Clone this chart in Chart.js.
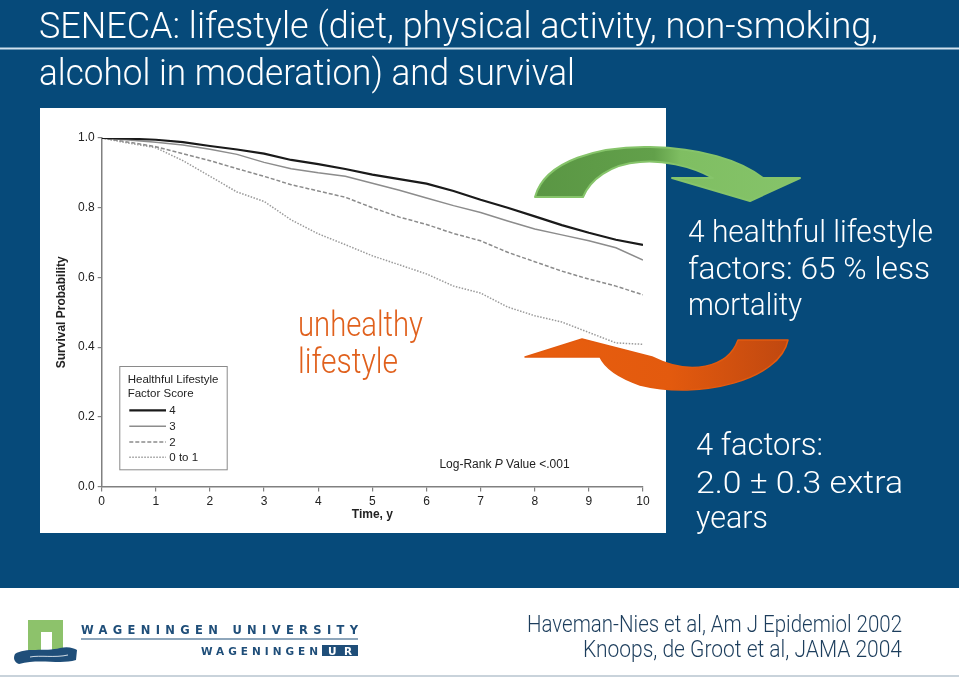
<!DOCTYPE html>
<html><head><meta charset="utf-8">
<script src="https://cdn.jsdelivr.net/npm/chart.js@4/dist/chart.umd.min.js"></script>
<style>
html,body{margin:0;padding:0;}
body{width:959px;height:679px;background:#064a7a;position:relative;overflow:hidden;}
#panel{position:absolute;left:40px;top:108px;width:626px;height:425px;background:#fff;}
#panel canvas{display:block;}
#overlay{position:absolute;left:0;top:0;pointer-events:none;}
</style></head><body>
<div id="panel"><canvas id="c" width="626" height="425"></canvas></div>
<svg id="overlay" width="959" height="679" xmlns="http://www.w3.org/2000/svg">
  <defs>
    <linearGradient id="gg" x1="535" y1="0" x2="800" y2="0" gradientUnits="userSpaceOnUse">
      <stop offset="0" stop-color="#5a9644"/><stop offset="0.45" stop-color="#62a04a"/>
      <stop offset="0.55" stop-color="#7fbe62"/><stop offset="1" stop-color="#86c46a"/>
    </linearGradient>
    <linearGradient id="og" x1="525" y1="0" x2="788" y2="0" gradientUnits="userSpaceOnUse">
      <stop offset="0" stop-color="#e85e0e"/><stop offset="0.55" stop-color="#e35a0e"/>
      <stop offset="1" stop-color="#c04810"/>
    </linearGradient>
  </defs>
  <!-- title -->
  <g font-family="Roboto, 'Liberation Sans Narrow', sans-serif" font-weight="300" fill="#ffffff">
    <text x="39" y="38" font-size="36" textLength="839" lengthAdjust="spacingAndGlyphs">SENECA: lifestyle (diet, physical activity, non-smoking,</text>
    <text x="39" y="85" font-size="36" textLength="536" lengthAdjust="spacingAndGlyphs">alcohol in moderation) and survival</text>
  </g>
  <rect x="0" y="47.5" width="959" height="2" fill="#cfe1ee"/>
  <!-- arrows -->
  <path d="M535,197 C545,160 600,146 650,147 C700,148 740,160 763,178 L800,178 L750,201 L672,178 L713,178 C690,165 660,160 640,162 C610,164 590,180 583,197 Z" fill="url(#gg)" stroke="#86c46a" stroke-width="2" stroke-linejoin="round"/>
  <path d="M525,357 L582,339 L652,357 C690,376 728,368 738,340 L788,340 C780,380 700,400 640,385 C620,378 605,368 600,357 Z" fill="url(#og)" stroke="#e35a0e" stroke-width="1.5" stroke-linejoin="round"/>
  <!-- annotations -->
  <g font-family="Roboto, 'Liberation Sans Narrow', sans-serif" font-weight="300">
    <text x="298" y="336" font-size="35" fill="#e0601c" textLength="125" lengthAdjust="spacingAndGlyphs">unhealthy</text>
    <text x="298" y="373" font-size="35" fill="#e0601c" textLength="100" lengthAdjust="spacingAndGlyphs">lifestyle</text>
    <g fill="#ffffff" font-size="32">
      <text x="688" y="242" textLength="245" lengthAdjust="spacingAndGlyphs">4 healthful lifestyle</text>
      <text x="688" y="279" textLength="242" lengthAdjust="spacingAndGlyphs">factors: 65 % less</text>
      <text x="688" y="315" textLength="114" lengthAdjust="spacingAndGlyphs">mortality</text>
      <text x="696" y="455" textLength="127" lengthAdjust="spacingAndGlyphs">4 factors:</text>
      <text x="696" y="493" textLength="207" lengthAdjust="spacingAndGlyphs">2.0 ± 0.3 extra</text>
      <text x="696" y="528" textLength="72" lengthAdjust="spacingAndGlyphs">years</text>
    </g>
  </g>
  <!-- footer -->
  <rect x="0" y="588" width="959" height="91" fill="#ffffff"/>
  <rect x="0" y="675" width="959" height="2" fill="#c9d3db"/>
  <g font-family="Roboto, 'Liberation Sans Narrow', sans-serif" font-weight="300" fill="#1c3d5c" font-size="24" text-anchor="end">
    <text x="902" y="631.5" textLength="375" lengthAdjust="spacingAndGlyphs">Haveman-Nies et al, Am J Epidemiol 2002</text>
    <text x="902" y="656.5" textLength="319" lengthAdjust="spacingAndGlyphs">Knoops, de Groot et al, JAMA 2004</text>
  </g>
  <!-- logo -->
  <path d="M28,620 H63 V652 H52 V632 H41 V652 H28 Z" fill="#8dc26b"/>
  <path d="M15,654 C25,647 45,652 60,648 C68,646 74,648 77,650 L76,660 C60,665 40,658 19,664 C14,662 13,658 15,654 Z" fill="#1f4e79"/>
  <path d="M30,657 C40,655 55,658 68,655" stroke="#ffffff" stroke-width="0.8" fill="none"/>
  <g font-family="'DejaVu Sans', sans-serif" font-weight="bold" fill="#1f4e79">
    <text x="81" y="633.5" font-size="11.5" textLength="277" lengthAdjust="spacing">WAGENINGEN UNIVERSITY</text>
    <text x="201" y="655" font-size="10.5" textLength="117" lengthAdjust="spacing">WAGENINGEN</text>
  </g>
  <rect x="81" y="638.5" width="277" height="1" fill="#1f4e79"/>
  <rect x="322" y="645" width="36" height="11" fill="#1f4e79"/>
  <text x="328" y="655" font-family="'DejaVu Sans', sans-serif" font-weight="bold" font-size="10.5" fill="#ffffff" textLength="24" lengthAdjust="spacing">UR</text>
</svg>
<script>
// ---- data ----
const years = [0,0.5,1,1.5,2,2.5,3,3.5,4,4.5,5,5.5,6,6.5,7,7.5,8,8.5,9,9.5,10];
const score4  = [1.000,0.998,0.995,0.988,0.977,0.967,0.955,0.937,0.925,0.911,0.895,0.882,0.869,0.848,0.823,0.800,0.775,0.750,0.728,0.708,0.693];
const score3  = [1.000,0.994,0.988,0.980,0.968,0.953,0.930,0.912,0.900,0.890,0.870,0.850,0.828,0.806,0.786,0.762,0.739,0.722,0.705,0.685,0.650];
const score2  = [1.000,0.988,0.975,0.955,0.935,0.912,0.890,0.866,0.848,0.830,0.800,0.773,0.752,0.726,0.705,0.672,0.645,0.618,0.595,0.575,0.550];
const score01 = [1.000,0.985,0.972,0.935,0.890,0.845,0.818,0.765,0.725,0.694,0.662,0.636,0.610,0.575,0.555,0.515,0.490,0.472,0.442,0.412,0.408];
const seriesLabels = ['4','3','2','0 to 1'];
const legendTitle = ['Healthful Lifestyle','Factor Score'];
const yTickLabels = ['0.0','0.2','0.4','0.6','0.8','1.0'];
const xTickLabels = ['0','1','2','3','4','5','6','7','8','9','10'];

const FONT = "'Liberation Sans', Arial, Helvetica, sans-serif";
const toPts = arr => arr.map((v,i)=>({x:years[i], y:v}));

const styles = [
  {borderColor:'#1a1a1a', borderWidth:2.2, borderDash:[]},
  {borderColor:'#8c8c8c', borderWidth:1.5, borderDash:[]},
  {borderColor:'#8c8c8c', borderWidth:1.5, borderDash:[4,2]},
  {borderColor:'#9a9a9a', borderWidth:1.5, borderDash:[1.5,1.5]}
];
const seriesData = [score4, score3, score2, score01];

const innerLegend = {
  id:'innerLegend',
  afterDraw(chart){
    const {ctx, chartArea:a} = chart;
    ctx.save();
    const bx = a.left + 17.6, by = a.top + 228, bw = 107.4, bh = 103.3;
    ctx.strokeStyle = '#8a8a8a'; ctx.lineWidth = 1; ctx.setLineDash([]);
    ctx.strokeRect(bx+0.5, by+0.5, bw, bh);
    ctx.fillStyle = '#222'; ctx.font = '11.5px ' + FONT; ctx.textBaseline = 'middle'; ctx.textAlign = 'left';
    ctx.fillText(legendTitle[0], bx+8.4, by+14);
    ctx.fillText(legendTitle[1], bx+8.4, by+28.3);
    const rows = [44.3, 60.3, 76, 91.3];
    chart.data.datasets.forEach((ds,i)=>{
      const y = by + rows[i];
      ctx.strokeStyle = ds.borderColor; ctx.lineWidth = ds.borderWidth; ctx.setLineDash(ds.borderDash||[]);
      ctx.beginPath(); ctx.moveTo(bx+10, y); ctx.lineTo(bx+46.7, y); ctx.stroke();
      ctx.fillText(ds.label, bx+50, y+0.5);
    });
    // Log-rank annotation
    ctx.setLineDash([]);
    const cx = a.left + 402.8, cy = a.top + 327;
    const p1 = 'Log-Rank ', p2 = 'P', p3 = ' Value <.001';
    ctx.font = '12px ' + FONT; const w1 = ctx.measureText(p1).width, w3 = ctx.measureText(p3).width;
    ctx.font = 'italic 12px ' + FONT; const w2 = ctx.measureText(p2).width;
    let x = cx - (w1+w2+w3)/2;
    ctx.font = '12px ' + FONT; ctx.fillText(p1, x, cy); x += w1;
    ctx.font = 'italic 12px ' + FONT; ctx.fillText(p2, x, cy); x += w2;
    ctx.font = '12px ' + FONT; ctx.fillText(p3, x, cy);
    ctx.restore();
  }
};

new Chart(document.getElementById('c'), {
  type:'line',
  data:{
    datasets: seriesData.map((d,i)=>({
      label: seriesLabels[i], data: toPts(d),
      borderColor: styles[i].borderColor, borderWidth: styles[i].borderWidth,
      borderDash: styles[i].borderDash, fill:false, pointRadius:0, tension:0
    }))
  },
  options:{
    responsive:false, animation:false, devicePixelRatio:1,
    layout:{padding:{left:8, right:23, top:30, bottom:0}},
    plugins:{legend:{display:false}, tooltip:{enabled:false}},
    scales:{
      x:{
        type:'linear', min:0, max:10,
        ticks:{stepSize:1, color:'#222', font:{size:12, family:FONT}, padding:3, maxRotation:0,
               callback:(v,i)=>xTickLabels[i]},
        grid:{drawOnChartArea:false, drawTicks:true, tickLength:5, color:'#808080', lineWidth:1.2},
        border:{display:true, color:'#808080', width:1.5},
        title:{display:true, text:'Time, y', color:'#222', font:{size:12, weight:'bold', family:FONT}, padding:{top:0, bottom:11}},
        afterFit(s){ s.height = 46.5; }
      },
      y:{
        min:0, max:1,
        ticks:{stepSize:0.2, color:'#222', font:{size:12, family:FONT}, padding:3,
               callback:(v,i)=>yTickLabels[i]},
        grid:{drawOnChartArea:false, drawTicks:true, tickLength:4, color:'#808080', lineWidth:1.2},
        border:{display:true, color:'#808080', width:1.5},
        title:{display:true, text:'Survival Probability', color:'#222', font:{size:12, weight:'bold', family:FONT}, padding:{top:6.7, bottom:0}},
        afterFit(s){ s.width = 53.7; }
      }
    }
  },
  plugins:[innerLegend]
});
</script>
</body></html>
